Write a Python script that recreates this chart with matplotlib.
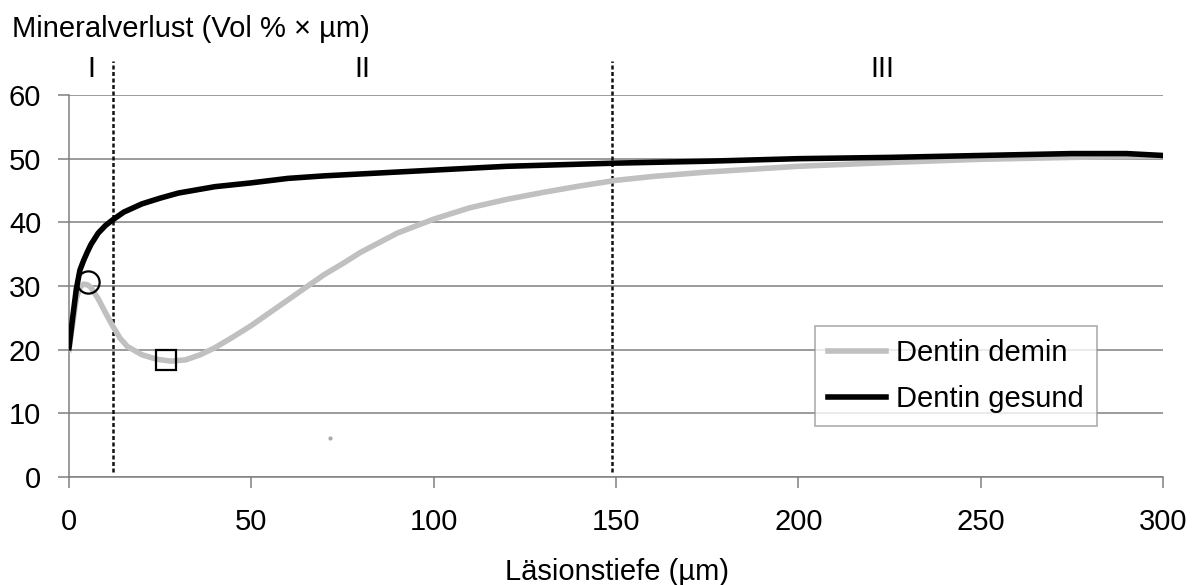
import matplotlib
matplotlib.use("Agg")
import matplotlib.pyplot as plt

plt.rcParams['font.family'] = ['Liberation Sans', 'DejaVu Sans']

# Data
x_gesund = [0, 1, 2, 3, 4, 5, 6, 8, 10, 12, 15, 20, 25, 30, 40, 50, 60, 70, 80, 90,
            100, 120, 150, 175, 200, 225, 250, 275, 290, 300]
y_gesund = [20.3, 25, 29.5, 32.5, 34, 35.3, 36.5, 38.3, 39.5, 40.4, 41.6, 42.9, 43.8,
            44.6, 45.6, 46.2, 46.9, 47.3, 47.6, 47.9, 48.2, 48.8, 49.3, 49.6, 50.0,
            50.2, 50.5, 50.8, 50.8, 50.5]

x_demin = [0, 1, 2, 3, 4, 5, 6, 8, 10, 12, 14, 16, 20, 24, 28, 32, 36, 40, 45, 50, 55,
           60, 65, 70, 75, 80, 90, 100, 110, 120, 130, 140, 150, 160, 175, 200, 225,
           250, 275, 300]
y_demin = [20, 24, 28, 29.8, 30.3, 30.2, 29.8, 28, 25.8, 23.7, 21.8, 20.5, 19.2, 18.5,
           18.2, 18.4, 19.2, 20.3, 22, 23.8, 25.8, 27.8, 29.8, 31.8, 33.5, 35.3, 38.3,
           40.5, 42.3, 43.6, 44.7, 45.7, 46.6, 47.2, 47.9, 48.8, 49.4, 49.9, 50.2, 50.4]

stray_point = (71.5, 6.2)
circle_marker = (5.3, 30.7)
square_marker = (26.6, 18.3)

zone_bounds = [12, 149]
zone_labels = ["I", "II", "III"]
zone_label_x = [6, 80.5, 223]

x_ticks = [0, 50, 100, 150, 200, 250, 300]
y_ticks = [0, 10, 20, 30, 40, 50, 60]

W, H = 1192, 585
fig = plt.figure(figsize=(W / 100, H / 100), dpi=100)
ax = fig.add_axes([69 / W, 1 - 477 / H, (1163 - 69) / W, (477 - 95) / H])

grid_c = '#808080'
ax.set_xlim(0, 300)
ax.set_ylim(0, 60)
ax.set_yticks(y_ticks)
ax.set_xticks(x_ticks)
ax.yaxis.grid(True, color=grid_c, linewidth=1.1)
ax.set_axisbelow(True)
for s in ['top', 'right']:
    ax.spines[s].set_visible(False)
for s in ['left', 'bottom']:
    ax.spines[s].set_color(grid_c)
    ax.spines[s].set_linewidth(1.1)
ax.tick_params(axis='both', direction='out', length=8, width=1.1, color=grid_c,
               labelsize=21)
ax.tick_params(axis='y', pad=12)
ax.tick_params(axis='x', pad=14)

ax.plot(x_demin, y_demin, color='#c0c0c0', linewidth=4, label='Dentin demin',
        solid_joinstyle='round', zorder=3)
ax.plot(x_gesund, y_gesund, color='black', linewidth=4, label='Dentin gesund',
        solid_joinstyle='round', zorder=4)
ax.plot([stray_point[0]], [stray_point[1]], 'o', color='#aaaaaa', markersize=2, zorder=3)

ax.plot([circle_marker[0]], [circle_marker[1]], 'o', markerfacecolor='none',
        markeredgecolor='black', markersize=16, markeredgewidth=1.6, zorder=5)
ax.plot([square_marker[0]], [square_marker[1]], 's', markerfacecolor='none',
        markeredgecolor='black', markersize=14, markeredgewidth=1.6, zorder=5)

for xb in zone_bounds:
    ax.plot([xb, xb], [0.8, 65.3], color='#111111', linestyle=(0, (1.6, 1.0)),
            linewidth=1.8, clip_on=False, zorder=2)

for lab, xl in zip(zone_labels, zone_label_x):
    ax.text(xl, 62.8, lab, ha='center', va='baseline', fontsize=21, clip_on=False)

leg = ax.legend(loc='lower left', bbox_to_anchor=(204.5, 8.0), bbox_transform=ax.transData,
                fontsize=21, frameon=True, fancybox=False, edgecolor='#999999',
                handlelength=2.0, borderpad=0.45, labelspacing=0.6, handletextpad=0.35,
                borderaxespad=0)
leg.get_frame().set_linewidth(1.2)

fig.text(12 / W, 1 - 37 / H, 'Mineralverlust (Vol % × µm)', fontsize=21,
         ha='left', va='baseline')
fig.text(617 / W, 1 - 580 / H, 'Läsionstiefe (µm)', fontsize=21,
         ha='center', va='baseline')

fig.savefig('out.png', dpi=100)
